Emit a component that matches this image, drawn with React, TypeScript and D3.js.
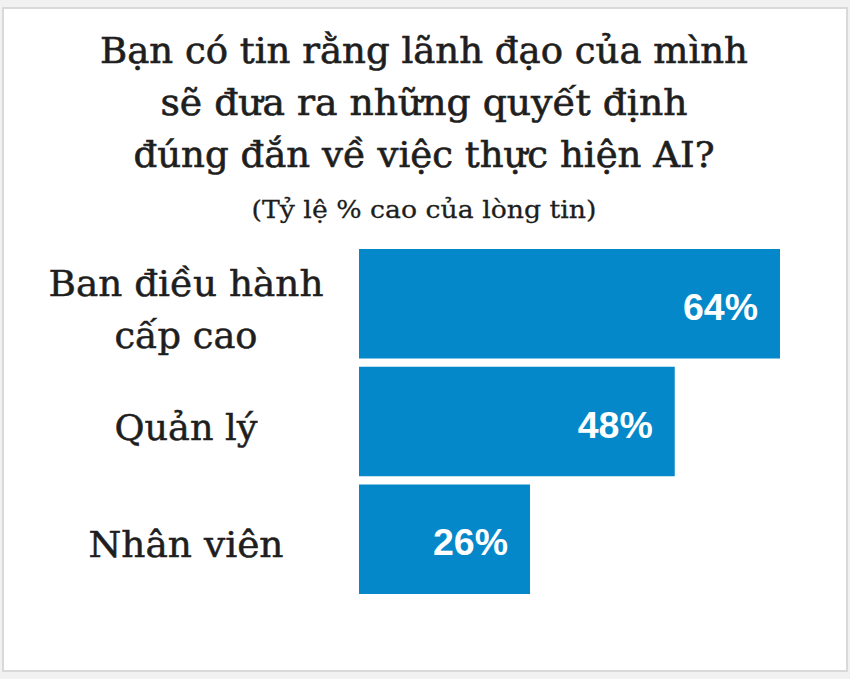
import React, { useEffect, useRef } from 'react';
import * as d3 from 'd3';

const WIDTH = 850;
const HEIGHT = 679;

const titleLines = [
  'Bạn có tin rằng lãnh đạo của mình',
  'sẽ đưa ra những quyết định',
  'đúng đắn về việc thực hiện AI?'
];
const subtitle = '(Tỷ lệ % cao của lòng tin)';

const categories = ['Ban điều hành cấp cao', 'Quản lý', 'Nhân viên'];
const categoryLines = [['Ban điều hành', 'cấp cao'], ['Quản lý'], ['Nhân viên']];
const values = [64, 48, 26];

const App: React.FC = () => {
  const svgRef = useRef<SVGSVGElement>(null);

  useEffect(() => {
    if (!svgRef.current) return;
    const svg = d3.select(svgRef.current);
    svg.selectAll('*').remove();

    // page + card frame
    svg.append('rect')
      .attr('width', WIDTH)
      .attr('height', HEIGHT)
      .attr('fill', '#f1f1f1');
    svg.append('rect')
      .attr('x', 3)
      .attr('y', 8)
      .attr('width', 844)
      .attr('height', 663)
      .attr('fill', '#fff')
      .attr('stroke', '#d9d9d9')
      .attr('stroke-width', 2);

    // title
    const titleWidths = [648, 527, 581];
    svg.append('g')
      .selectAll('text')
      .data(titleLines)
      .enter()
      .append('text')
      .attr('x', 424)
      .attr('y', (d, i) => 63 + i * 52)
      .attr('text-anchor', 'middle')
      .attr('font-family', '"DejaVu Serif", serif')
      .attr('font-size', '35px')
      .attr('fill', '#1e1e1e')
      .attr('stroke', '#1e1e1e')
      .attr('stroke-width', 0.6)
      .attr('textLength', (d, i) => titleWidths[i])
      .attr('lengthAdjust', 'spacingAndGlyphs')
      .text(d => d);

    svg.append('text')
      .attr('x', 424)
      .attr('y', 218)
      .attr('text-anchor', 'middle')
      .attr('font-family', '"DejaVu Serif", serif')
      .attr('font-size', '25px')
      .attr('fill', '#1e1e1e')
      .attr('stroke', '#1e1e1e')
      .attr('stroke-width', 0.3)
      .attr('textLength', 345)
      .attr('lengthAdjust', 'spacingAndGlyphs')
      .text(subtitle);

    // scales
    const x = d3.scaleLinear().domain([0, 64]).range([359, 780]);
    const y = d3.scaleBand<string>()
      .domain(categories)
      .range([249, 594])
      .paddingInner(0.07);

    const rows = svg.append('g')
      .selectAll('g')
      .data(categories)
      .enter()
      .append('g');

    rows.append('rect')
      .attr('x', x(0))
      .attr('y', d => y(d)!)
      .attr('width', (d, i) => x(values[i]) - x(0))
      .attr('height', y.bandwidth())
      .attr('fill', '#0588c9');

    // value labels inside bars
    rows.append('text')
      .attr('x', (d, i) => x(values[i]) - 22)
      .attr('y', d => y(d)! + y.bandwidth() / 2 + 16)
      .attr('text-anchor', 'end')
      .attr('font-family', '"Liberation Sans", Arial, sans-serif')
      .attr('font-weight', 'bold')
      .attr('font-size', '36px')
      .attr('fill', '#fff')
      .attr('textLength', 75)
      .attr('lengthAdjust', 'spacingAndGlyphs')
      .text((d, i) => `${values[i]}%`);

    // category labels, centred on the left
    const labelWidths = [[275, 143], [143], [195]];
    rows.each(function (d, i) {
      const lines = categoryLines[i];
      const cy = y(d)! + y.bandwidth() / 2;
      d3.select(this)
        .selectAll('text.cat')
        .data(lines)
        .enter()
        .append('text')
        .attr('class', 'cat')
        .attr('x', 186)
        .attr('y', (l, j) => cy + 18 + (j - (lines.length - 1) / 2) * 52)
        .attr('text-anchor', 'middle')
        .attr('font-family', '"DejaVu Serif", serif')
        .attr('font-size', '35px')
        .attr('fill', '#1e1e1e')
        .attr('stroke', '#1e1e1e')
        .attr('stroke-width', 0.5)
        .attr('textLength', (l, j) => labelWidths[i][j])
        .attr('lengthAdjust', 'spacingAndGlyphs')
        .text(l => l);
    });
  }, []);

  return (
    <div style={{ position: 'absolute', left: 0, top: 0 }}>
      <svg ref={svgRef} width={WIDTH} height={HEIGHT} style={{ display: 'block' }}></svg>
    </div>
  );
};

export default App;
